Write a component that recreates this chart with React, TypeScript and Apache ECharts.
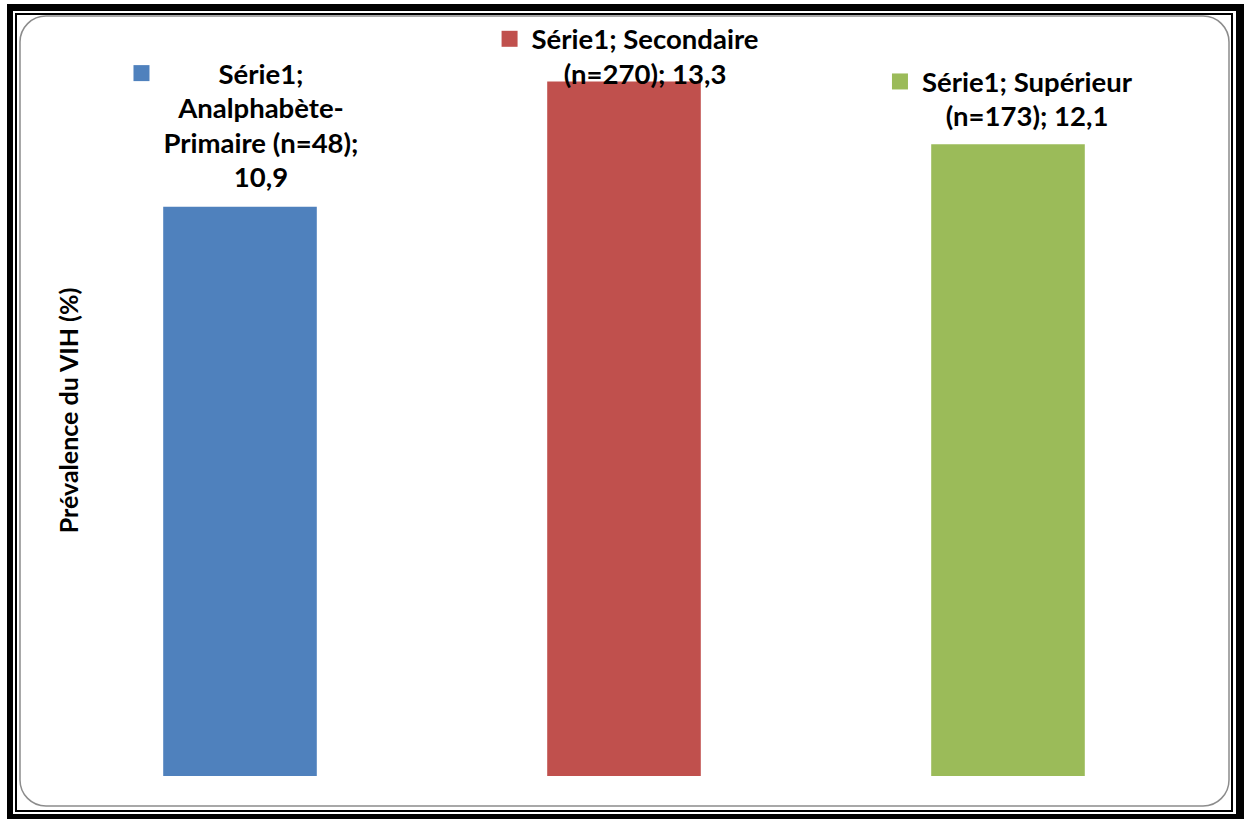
import React, { useEffect, useRef } from "react";
import * as echarts from "echarts";

// Prévalence du VIH selon le niveau d'instruction
const seriesName = "Série1";
const categories = ["Analphabète-Primaire", "Secondaire", "Supérieur"];
const sampleSizes = [48, 270, 173];
const prevalence = [10.9, 13.3, 12.1];
const yAxisTitle = "Prévalence du VIH (%)";

// Presentation
const barColors = ["#4F81BD", "#C0504D", "#9BBB59"];
const wrapChars = [16, 18, 17];
const labelOffsets: [number, number][] = [
  [6, -13],
  [6, 9],
  [4, -11],
];
const FONT = "Lato, 'DejaVu Sans', sans-serif";

const fmt = (v: number) => v.toFixed(1).replace(".", ",");

// Greedy word wrap, breaking after spaces and hyphens
function wrap(text: string, max: number): string[] {
  const pieces: { sep: string; word: string }[] = [];
  text.split(" ").forEach((w, wi) => {
    const parts = w.split(/(?<=-)/);
    parts.forEach((p, pi) => pieces.push({ sep: pi === 0 && wi > 0 ? " " : "", word: p }));
  });
  const lines: string[] = [];
  let cur = "";
  pieces.forEach((p) => {
    if (!cur) cur = p.word;
    else if ((cur + p.sep + p.word).length <= max) cur = cur + p.sep + p.word;
    else {
      lines.push(cur);
      cur = p.word;
    }
  });
  if (cur) lines.push(cur);
  return lines;
}

function labelLines(i: number): string[] {
  const full = `${seriesName}; ${categories[i]} (n=${sampleSizes[i]}); ${fmt(prevalence[i])}`;
  return wrap(full, wrapChars[i]);
}

export default function App() {
  const ref = useRef<HTMLDivElement>(null);

  useEffect(() => {
    if (!ref.current) return;
    const chart = echarts.init(ref.current, undefined, { renderer: "svg" });

    const data = prevalence.map((v, i) => ({
      value: v,
      itemStyle: { color: barColors[i] },
      label: {
        offset: labelOffsets[i],
        rich: {
          sq: { width: 16, height: 16, backgroundColor: barColors[i], align: "left", lineHeight: 34.5 },
          g: { width: 14, align: "left", lineHeight: 34.5 },
          sp: { width: 30, align: "left", lineHeight: 34.5 },
          t: {
            fontFamily: FONT,
            fontWeight: "bold",
            fontSize: 27.5,
            color: "#000",
            lineHeight: 34.5,
          },
        },
      },
    }));

    chart.setOption({
      animation: false,
      backgroundColor: "#fff",
      grid: { left: 48, right: 44, top: 45, bottom: 43, containLabel: false },
      xAxis: {
        type: "category",
        data: categories,
        axisLine: { show: false },
        axisTick: { show: false },
        axisLabel: { show: false },
        splitLine: { show: false },
      },
      yAxis: {
        type: "value",
        min: 0,
        max: 14,
        axisLine: { show: false },
        axisTick: { show: false },
        axisLabel: { show: false },
        splitLine: { show: false },
        name: yAxisTitle,
        nameLocation: "middle",
        nameRotate: 90,
        nameGap: -32,
        nameTextStyle: {
          fontFamily: FONT,
          fontWeight: "bold",
          fontSize: 25,
          color: "#000",
        },
      },
      series: [
        {
          name: seriesName,
          type: "bar",
          barWidth: "40%",
          data,
          label: {
            show: true,
            position: "top",
            distance: 0,
            align: "center",
            formatter: (p: any) =>
              labelLines(p.dataIndex)
                .map((l, k) => (k === 0 ? `{sq|}{g|}{t|${l}}` : `{sp|}{t|${l}}`))
                .join("\n"),
          },
        },
      ],
      graphic: [
        // outer heavy frame
        { type: "rect", silent: true, shape: { x: 7, y: 4, width: 6, height: 815 }, style: { fill: "#000" } },
        { type: "rect", silent: true, shape: { x: 7, y: 4, width: 1237, height: 7 }, style: { fill: "#000" } },
        { type: "rect", silent: true, shape: { x: 1236, y: 4, width: 8, height: 815 }, style: { fill: "#000" } },
        { type: "rect", silent: true, shape: { x: 7, y: 814, width: 1237, height: 5 }, style: { fill: "#000" } },
        // inner thin frame
        {
          type: "rect",
          silent: true,
          shape: { x: 16, y: 14, width: 1216, height: 797 },
          style: { fill: "none", stroke: "#000", lineWidth: 2 },
        },
        // chart area rounded border
        {
          type: "rect",
          silent: true,
          shape: { x: 20, y: 16, width: 1209, height: 790, r: 26 },
          style: { fill: "none", stroke: "#8c8c8c", lineWidth: 1.5 },
        },
      ],
    });

    return () => chart.dispose();
  }, []);

  return (
    <div
      ref={ref}
      style={{ position: "absolute", left: 0, top: 0, width: 1244, height: 819 }}
    />
  );
}
